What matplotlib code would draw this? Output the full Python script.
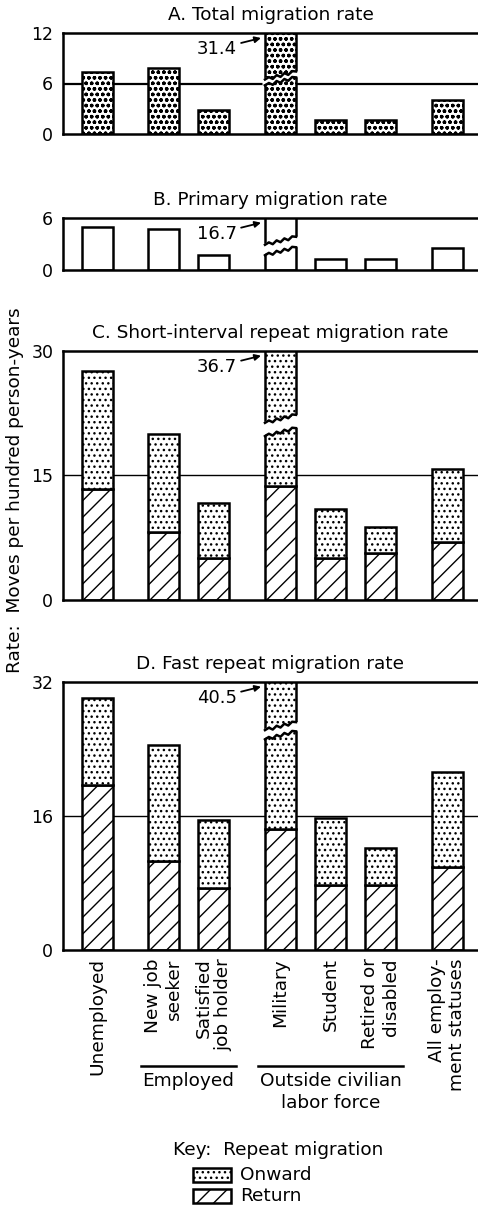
import matplotlib.pyplot as plt
from matplotlib.patches import Rectangle
import numpy as np

# data (moves per hundred person-years)
categories = ['Unemployed', 'New job\nseeker', 'Satisfied\njob holder', 'Military',
              'Student', 'Retired or\ndisabled', 'All employ-\nment statuses']
positions = [0, 1.33, 2.33, 3.67, 4.67, 5.67, 7.0]

total_rate = [7.4, 7.8, 2.8, 31.4, 1.7, 1.7, 4.0]
primary_rate = [4.9, 4.7, 1.7, 16.7, 1.3, 1.3, 2.5]
short_total = [27.6, 20.0, 11.7, 36.7, 11.0, 8.8, 15.8]
short_return = [13.3, 8.2, 5.0, 13.7, 5.1, 5.6, 7.0]
fast_total = [30.0, 24.5, 15.5, 40.5, 15.7, 12.2, 21.2]
fast_return = [19.7, 10.6, 7.4, 14.4, 7.8, 7.8, 9.9]

# broken military bar: (lower piece top, upper piece bottom)
break_a = (6.25, 6.95)
break_b = (2.15, 3.35)
break_c = (20.2, 21.8)
break_d = (25.6, 26.7)
broken = 3

groups = [('Employed', 1, 2), ('Outside civilian\nlabor force', 3, 5)]

W, H = 478, 1214
FS = 13.3
plt.rcParams['font.family'] = 'DejaVu Sans'
plt.rcParams['hatch.linewidth'] = 1.0
fig = plt.figure(figsize=(W / 100, H / 100), dpi=100)

BAR_W = 0.62
LW = 1.8


def make_axes(top, bottom):
    ax = fig.add_axes([63 / W, 1 - bottom / H, (W - 63) / W, (bottom - top) / H])
    ax.spines['right'].set_visible(False)
    for s in ('top', 'left', 'bottom'):
        ax.spines[s].set_linewidth(LW)
    ax.set_xlim(-0.68, 7.62)
    ax.tick_params(length=0, labelsize=12.5, pad=7)
    ax.set_xticks([])
    return ax, bottom - top


def draw_break(ax, brk, ymax, height_px):
    x0 = positions[broken] - BAR_W / 2
    x1 = positions[broken] + BAR_W / 2
    px = ymax / height_px
    n = 9
    xs = np.linspace(x0, x1, n)
    teeth = np.array([0, 1, -1, 1, -1, 1, -1, 1, 0]) * 1.4 * px
    tilt = np.linspace(4, -4, n) * px
    lo = brk[0] + teeth - tilt
    hi = brk[1] + teeth - tilt
    xe = np.linspace(x0 - 0.05, x1 + 0.05, n)
    ax.fill(np.r_[xe, xe[::-1]], np.r_[lo, hi[::-1]], color='white', zorder=3, lw=0)
    ax.plot(xs, lo, color='black', lw=LW, zorder=4, solid_capstyle='projecting')
    ax.plot(xs, hi, color='black', lw=LW, zorder=4, solid_capstyle='projecting')


def annotate_top(ax, value, height_px):
    x_tip = positions[broken] - BAR_W / 2 - 0.08
    ax.annotate(f'{value}', xy=(x_tip, 1 - 5 / height_px),
                xycoords=ax.get_xaxis_transform(),
                xytext=(-24, -11), textcoords='offset pixels',
                ha='right', va='center', fontsize=13,
                arrowprops=dict(arrowstyle='-|>', color='black', lw=1.3,
                                shrinkA=1, shrinkB=0, mutation_scale=9))


def panel(top, bottom, title, ymax, ticks, brk, values, returns=None,
          hatch=None, grid=None, grid_lw=1.0):
    ax, hpx = make_axes(top, bottom)
    if returns is None:
        ax.bar(positions, values, BAR_W, color='white', edgecolor='black',
               hatch=hatch, lw=LW, zorder=2)
    else:
        onward = [t - r for t, r in zip(values, returns)]
        ax.bar(positions, returns, BAR_W, color='white', edgecolor='black',
               hatch='//', lw=LW, zorder=2)
        ax.bar(positions, onward, BAR_W, bottom=returns, color='white',
               edgecolor='black', hatch='...', lw=LW, zorder=2)
    if grid is not None:
        ax.axhline(grid, color='black', lw=grid_lw, zorder=1)
    ax.set_ylim(0, ymax)
    ax.set_yticks(ticks)
    draw_break(ax, brk, ymax, hpx)
    annotate_top(ax, values[broken], hpx)
    ax.set_title(title, fontsize=FS, pad=9)
    return ax


panel(33, 134, 'A. Total migration rate', 12, [0, 6, 12], break_a,
      total_rate, hatch='ooo', grid=6, grid_lw=1.6)
panel(217.7, 270, 'B. Primary migration rate', 6, [0, 6], break_b,
      primary_rate)
panel(350.7, 600, 'C. Short-interval repeat migration rate', 30, [0, 15, 30],
      break_c, short_total, returns=short_return, grid=15)
ax_d = panel(681.7, 950, 'D. Fast repeat migration rate', 32, [0, 16, 32],
             break_d, fast_total, returns=fast_return, grid=16)

ax_d.set_xticks(positions)
ax_d.set_xticklabels(categories, rotation=90, va='top', ha='center',
                     multialignment='right', fontsize=FS, linespacing=1.15)
ax_d.tick_params(axis='x', pad=6)

trans = ax_d.get_xaxis_transform()
for name, i0, i1 in groups:
    xa = positions[i0] - 0.45
    xb = positions[i1] + 0.45
    ax_d.plot([xa, xb], [-0.432, -0.432], color='black', lw=1.8,
              transform=trans, clip_on=False)
    ax_d.text((xa + xb) / 2, -0.455, name, transform=trans, ha='center',
              va='top', fontsize=FS, linespacing=1.3)

fig.text(15 / W, 1 - 490 / H, 'Rate:  Moves per hundred person-years',
         rotation=90, ha='center', va='center', fontsize=FS)

# key
fig.text(173 / W, 1 - 1150 / H, 'Key:  Repeat migration', ha='left',
         va='center', fontsize=FS)
for i, (name, hatch) in enumerate([('Onward', '...'), ('Return', '//')]):
    y_top = 1168 + 21 * i
    fig.add_artist(Rectangle((193 / W, 1 - (y_top + 14) / H), 38 / W, 14 / H,
                             transform=fig.transFigure, facecolor='white',
                             edgecolor='black', hatch=hatch, lw=LW))
    fig.text(240 / W, 1 - (y_top + 7) / H, name, ha='left', va='center',
             fontsize=FS)

fig.savefig('out.png', dpi=100)
